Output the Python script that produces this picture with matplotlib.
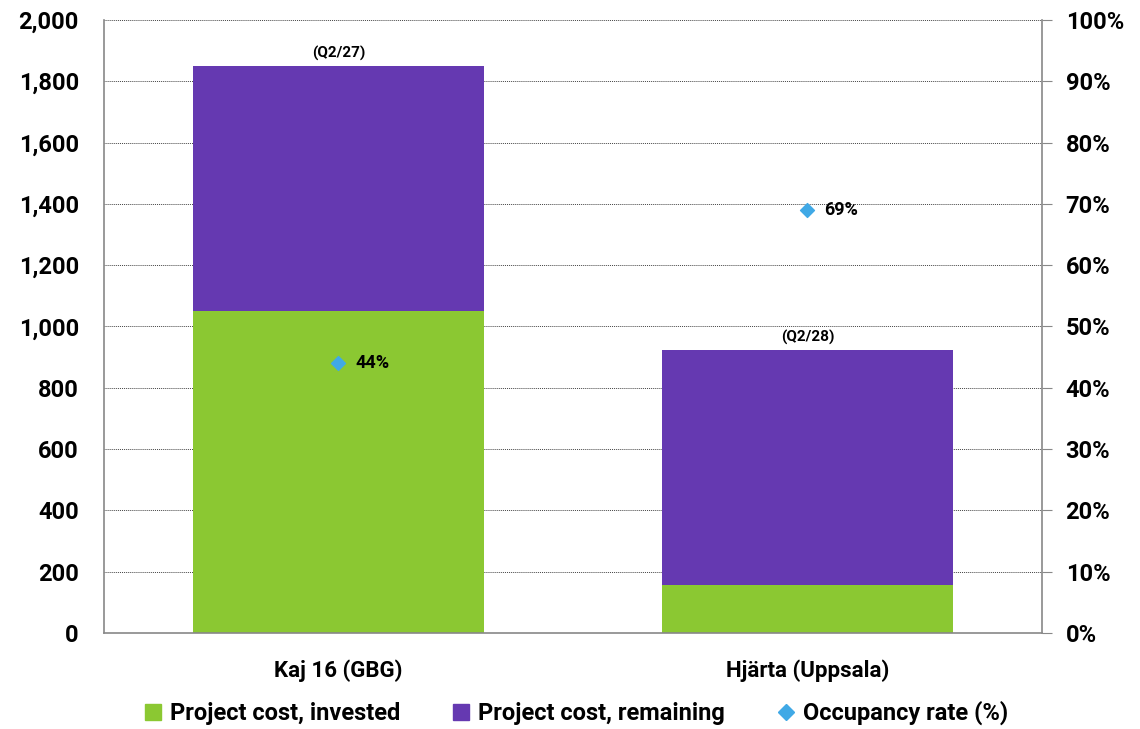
import matplotlib.pyplot as plt
from matplotlib.lines import Line2D
from matplotlib.ticker import FuncFormatter, MultipleLocator

plt.rcParams['font.family'] = ['Roboto', 'DejaVu Sans']
plt.rcParams['font.weight'] = 'bold'

projects = ["Kaj 16 (GBG)", "Hjärta (Uppsala)"]
invested = [1050, 157]
remaining = [800, 766]
occupancy = [44, 69]
completion = ["(Q2/27)", "(Q2/28)"]

green = "#8BC832"
purple = "#6539B1"
blue = "#40A9E6"

fig = plt.figure(figsize=(11.4, 7.29), dpi=100)
ax = fig.add_axes([0.0912, 0.1317, 0.8228, 0.8409])

x = list(range(len(projects)))
ax.bar(x, invested, width=0.62, color=green, zorder=2)
ax.bar(x, remaining, width=0.62, bottom=invested, color=purple, zorder=2)

for i in x:
    total = invested[i] + remaining[i]
    ax.text(i, total + 16, completion[i], ha="center", va="bottom",
            fontsize=11, fontweight="bold")

ax.set_xlim(-0.5, 1.5)
ax.set_ylim(0, 2000)
ax.yaxis.set_major_locator(MultipleLocator(200))
ax.yaxis.set_major_formatter(FuncFormatter(lambda v, p: f"{v:,.0f}"))
ax.grid(axis="y", color="#444444", linestyle=(0, (1, 1)), linewidth=0.7, zorder=0)
ax.set_xticks(x)
ax.set_xticklabels(projects)
ax.tick_params(axis="y", length=0, labelsize=17, pad=18)
ax.tick_params(axis="x", length=0, labelsize=16, pad=19)
for side in ["top", "right"]:
    ax.spines[side].set_visible(False)
for side in ["left", "bottom"]:
    ax.spines[side].set_color("#888888")
    ax.spines[side].set_linewidth(1.2)

ax2 = ax.twinx()
ax2.set_ylim(0, 100)
ax2.yaxis.set_major_locator(MultipleLocator(10))
ax2.yaxis.set_major_formatter(FuncFormatter(lambda v, p: f"{v:.0f}%"))
ax2.scatter(x, occupancy, marker="D", s=50, color=blue, zorder=5)
for i in x:
    ax2.annotate(f"{occupancy[i]}%", (i, occupancy[i]), xytext=(12, 0),
                 textcoords="offset points", va="center", ha="left",
                 fontsize=13, fontweight="bold")
ax2.tick_params(axis="y", length=7, direction="out", color="#888888",
                labelsize=17, pad=10)
for side in ["top", "left", "bottom"]:
    ax2.spines[side].set_visible(False)
ax2.spines["right"].set_color("#888888")
ax2.spines["right"].set_linewidth(1.2)

handles = [
    Line2D([], [], marker="s", linestyle="", color=green, markersize=11),
    Line2D([], [], marker="s", linestyle="", color=purple, markersize=11),
    Line2D([], [], marker="D", linestyle="", color=blue, markersize=8),
]
labels = ["Project cost, invested", "Project cost, remaining", "Occupancy rate (%)"]
fig.legend(handles, labels, loc="lower center", ncol=3, frameon=False,
           bbox_to_anchor=(0.505, -0.024), fontsize=17, handlelength=0.8,
           handletextpad=0.3, columnspacing=2.2)

fig.savefig("out.png", dpi=100)
